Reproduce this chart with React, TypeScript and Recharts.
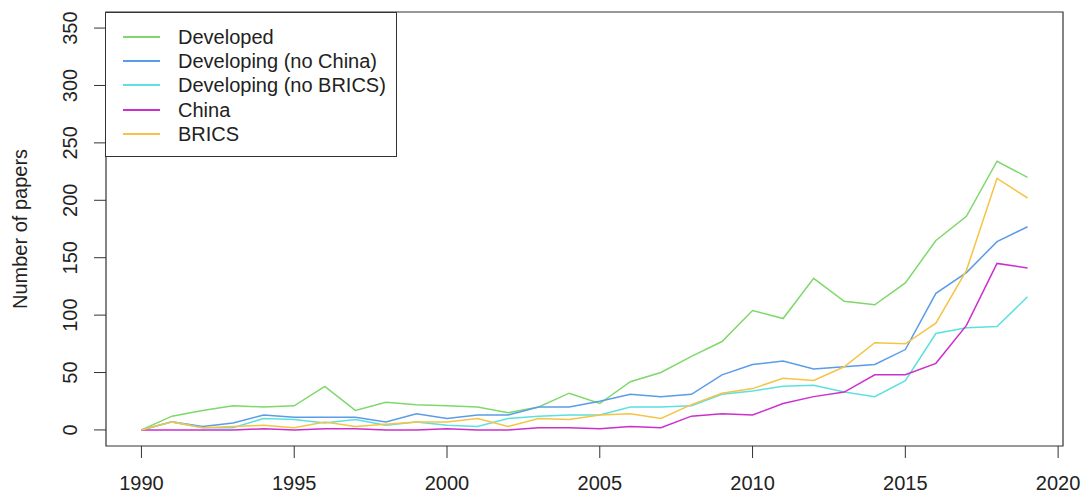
import {
  LineChart,
  Line,
  XAxis,
  YAxis,
  ReferenceArea,
} from 'recharts';

const years = [
  1990, 1991, 1992, 1993, 1994, 1995, 1996, 1997, 1998, 1999, 2000, 2001, 2002,
  2003, 2004, 2005, 2006, 2007, 2008, 2009, 2010, 2011, 2012, 2013, 2014, 2015,
  2016, 2017, 2018, 2019,
];

const developed = [
  0, 12, 17, 21, 20, 21, 38, 17, 24, 22, 21, 20, 15, 20, 32, 23, 42, 50, 64, 77,
  104, 97, 132, 112, 109, 128, 165, 186, 234, 220,
];
const developingNoChina = [
  0, 7, 3, 6, 13, 11, 11, 11, 7, 14, 10, 13, 13, 20, 20, 25, 31, 29, 31, 48, 57,
  60, 53, 55, 57, 70, 119, 137, 164, 177,
];
const developingNoBrics = [
  0, 7, 2, 2, 10, 9, 6, 9, 4, 7, 4, 3, 10, 12, 13, 13, 20, 20, 21, 31, 34, 38,
  39, 33, 29, 43, 84, 89, 90, 116,
];
const china = [
  0, 0, 0, 0, 1, 0, 1, 1, 0, 0, 1, 0, 0, 2, 2, 1, 3, 2, 12, 14, 13, 23, 29, 33,
  48, 48, 58, 91, 145, 141,
];
const brics = [
  0, 7, 2, 3, 4, 2, 7, 3, 5, 7, 7, 10, 3, 10, 9, 13, 14, 10, 22, 32, 36, 45, 43,
  55, 76, 75, 93, 139, 219, 202,
];

const xTicks = [1990, 1995, 2000, 2005, 2010, 2015, 2020];
const yTicks = [0, 50, 100, 150, 200, 250, 300, 350];

const series = [
  { key: 'developed', name: 'Developed', color: '#7fd86b' },
  { key: 'developingNoChina', name: 'Developing (no China)', color: '#5a9ce8' },
  { key: 'developingNoBrics', name: 'Developing (no BRICS)', color: '#5ce0e0' },
  { key: 'china', name: 'China', color: '#cc2fcc' },
  { key: 'brics', name: 'BRICS', color: '#f6c445' },
];

const FONT = '"Liberation Sans", Arial, Helvetica, sans-serif';
const X_DOMAIN: [number, number] = [1988.84, 2020.16];
const Y_DOMAIN: [number, number] = [-14, 364];

const data = years.map((year, i) => ({
  year,
  developed: developed[i],
  developingNoChina: developingNoChina[i],
  developingNoBrics: developingNoBrics[i],
  china: china[i],
  brics: brics[i],
}));

// R style y tick labels: rotated, reading upwards
const YTick = ({ x, y, payload }: any) => {
  const bx = x - 17;
  return (
    <text
      x={bx}
      y={y}
      transform={`rotate(-90, ${bx}, ${y})`}
      textAnchor="middle"
      fill="#222"
      fontSize={20}
      fontFamily={FONT}
    >
      {payload.value}
    </text>
  );
};

const YLabel = ({ viewBox }: any) => {
  const lx = 27;
  const ly = viewBox.y + viewBox.height / 2;
  return (
    <text
      x={lx}
      y={ly}
      transform={`rotate(-90, ${lx}, ${ly})`}
      textAnchor="middle"
      fill="#222"
      fontSize={20}
      fontFamily={FONT}
    >
      Number of papers
    </text>
  );
};

function LegendBox() {
  return (
    <div
      style={{
        position: 'absolute',
        left: 105,
        top: 12,
        width: 292,
        height: 145,
        boxSizing: 'border-box',
        border: '1.2px solid #333',
        background: '#fff',
        paddingTop: 12,
        fontFamily: FONT,
        fontSize: 20,
        color: '#222',
      }}
    >
      {series.map((s) => (
        <div
          key={s.key}
          style={{ display: 'flex', alignItems: 'center', height: 24.2 }}
        >
          <span
            style={{
              display: 'inline-block',
              marginLeft: 17,
              width: 37,
              height: 2,
              background: s.color,
            }}
          />
          <span style={{ marginLeft: 18, lineHeight: '24px' }}>{s.name}</span>
        </div>
      ))}
    </div>
  );
}

export default function App() {
  return (
    <div
      style={{
        position: 'absolute',
        left: 0,
        top: 0,
        width: 1086,
        height: 495,
        background: '#fff',
      }}
    >
      <LineChart
        width={1086}
        height={495}
        data={data}
        margin={{ top: 12, right: 23, left: 0, bottom: 0 }}
      >
        <XAxis
          dataKey="year"
          type="number"
          domain={X_DOMAIN}
          ticks={xTicks}
          allowDataOverflow
          height={49}
          axisLine={false}
          tickSize={12}
          tickMargin={18}
          tickLine={{ stroke: '#333' }}
          tick={{ fill: '#222', fontSize: 20, fontFamily: FONT }}
        />
        <YAxis
          type="number"
          domain={Y_DOMAIN}
          ticks={yTicks}
          allowDataOverflow
          width={106}
          axisLine={false}
          tickSize={12}
          tickMargin={0}
          tickLine={{ stroke: '#333' }}
          tick={<YTick />}
          label={<YLabel />}
        />
        <ReferenceArea
          x1={X_DOMAIN[0]}
          x2={X_DOMAIN[1]}
          y1={Y_DOMAIN[0]}
          y2={Y_DOMAIN[1]}
          fill="none"
          fillOpacity={0}
          stroke="#333"
          strokeWidth={1.2}
          ifOverflow="visible"
        />
        {series.map((s) => (
          <Line
            key={s.key}
            type="linear"
            dataKey={s.key}
            name={s.name}
            stroke={s.color}
            strokeWidth={1.5}
            dot={false}
            activeDot={false}
            isAnimationActive={false}
          />
        ))}
      </LineChart>
      <LegendBox />
    </div>
  );
}
